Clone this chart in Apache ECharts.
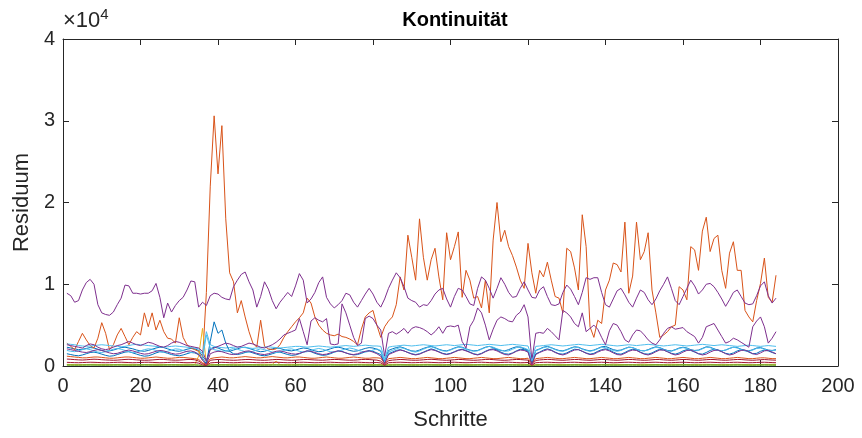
<!DOCTYPE html>
<html>
<head>
<meta charset="utf-8">
<script src="https://cdn.jsdelivr.net/npm/echarts@6/dist/echarts.min.js"></script>
<style>
  html, body { margin: 0; padding: 0; background: #fff; }
  #chart { width: 862px; height: 438px; }
</style>
</head>
<body>
<div id="chart"></div>
<script>
// Schritte 1..184
var steps = [];
for (var i = 1; i <= 184; i++) steps.push(i);

var xTicks = [0, 20, 40, 60, 80, 100, 120, 140, 160, 180, 200];
var yTicks = [0, 1, 2, 3, 4]; // x 10^4

// grosse orange Kurve
var resOrange = [
  2800,2400,2000,3000,4000,3200,2500,2200,3400,5300,
  4000,2000,2600,3800,4600,3600,2600,3500,4200,3800,
  6500,4800,6500,4400,5600,4200,3400,3300,2800,5900,
  3500,2600,2200,2000,1800,700,9000,22000,30600,23500,
  29400,18000,11400,10300,6500,8000,6000,4200,2800,2300,
  5600,2400,2100,2000,2100,2600,3500,4200,4800,5400,
  5900,6500,8300,7700,6000,5000,4400,4000,3800,3700,
  3900,3600,3500,3300,3000,2600,4500,6000,6500,6800,
  5000,3500,4800,5500,6000,7500,10900,9300,16000,13300,
  10500,18000,13300,10500,13000,14400,10900,8100,16300,13000,
  14600,16400,8400,11700,10500,8300,8500,7100,10500,6500,
  15400,20000,15200,16600,14600,13500,12100,10500,9500,15000,
  11400,8900,11700,10900,12700,10500,8500,8300,6500,14400,
  14000,12000,9300,18500,14600,4800,3500,5600,5200,9300,
  10500,12600,12400,11500,17600,8900,11000,17600,13000,14000,
  16300,9300,6500,3500,3800,4200,4800,5000,9700,9300,
  8100,14600,14200,11700,16500,18200,14000,15600,16000,11700,
  9500,13800,15200,11700,11700,6800,6000,5400,8000,10100,
  13200,8400,7800,11100
];

// obere violette Kurve
var resPurpleA = [
  8900,8600,7800,8000,9300,10200,10600,10000,7500,6500,
  6300,6200,6600,7500,8300,9900,9800,8900,8900,8800,
  8900,8900,9200,10100,8400,5900,7700,6600,7400,8000,
  8400,9300,10400,10300,7200,7800,7400,8600,8900,8800,
  8400,8200,8100,9700,10500,11200,11500,10300,9300,7200,
  8500,10300,9400,8000,7000,7800,8400,9000,8500,9800,
  11300,10500,7700,8200,9000,10200,10900,8400,7600,7100,
  7500,8000,8900,8700,7800,7200,8000,8800,9500,8800,
  7800,7200,8200,9500,10500,11400,10800,9700,8300,8000,
  7800,7200,7500,7400,8000,8800,9300,9500,8200,7200,
  8500,9500,9300,8500,7600,7400,9500,10900,10500,9500,
  8300,9500,10800,10000,9000,8400,8500,9500,10300,9300,
  8400,8300,9300,9700,8500,7500,7400,7600,9000,9900,
  9400,8500,7500,9000,10800,10600,10800,10800,9000,7500,
  7200,8200,9200,9500,8700,7800,7200,8300,9300,9000,
  8100,7500,8200,9200,10000,10900,9500,8000,7500,8500,
  9500,10500,9800,8800,9300,10000,10100,9700,9000,8200,
  7300,8100,9000,9300,8500,7700,7500,7600,8600,9800,
  10300,8600,7700,8300
];

// untere violette Kurve
var resPurpleB = [
  2600,2500,2400,2300,2200,2500,2700,2600,2300,2100,
  2000,2100,2300,2500,2600,2800,3000,2800,2600,2500,
  2700,2900,2800,2600,2400,2300,2500,2800,3000,2900,
  2700,2500,2400,2300,2200,1800,600,2000,2200,2400,
  2600,2800,2700,2500,2300,2400,2600,2800,2700,2500,
  2300,2200,2400,2600,2900,3300,3800,4000,4200,4400,
  5800,4200,2600,5500,5900,5600,5400,5800,2700,2600,
  2700,7600,6500,5000,3500,2500,2800,5800,6100,5800,
  5000,4400,1200,4000,4200,3900,4200,4600,4000,4600,
  4800,4700,4500,4200,3800,4200,4800,4000,4800,4900,
  4800,5000,3000,2200,4800,5600,7100,6500,5000,3200,
  4500,5600,6000,5800,5500,5400,6200,6600,7500,6000,
  700,4000,4100,4000,4600,4200,3700,3200,6800,6500,
  6000,5200,4800,6500,4200,4600,5000,4500,3500,2600,
  4300,5200,5000,4200,3200,2900,3800,4400,4300,3800,
  3200,2800,2600,3200,4000,4600,4800,4500,4600,4700,
  4200,3900,3600,2800,3500,4800,5000,5200,4400,3600,
  2800,3000,3400,3200,2900,2600,2300,4800,5500,6000,
  4800,2800,3400,4200
];

var resLightBlue1 = [
  2700,2650,2600,2500,2450,2400,2450,2500,2550,2600,
  2550,2500,2450,2400,2350,2400,2500,2600,2650,2600,
  2550,2500,2450,2400,2350,2300,2350,2400,2450,2400,
  2350,2300,2250,2200,2100,1500,4200,2600,2400,2300,
  2250,2200,2250,2300,2350,2300,2250,2200,2150,2200,
  2250,2300,2350,2300,2250,2200,2250,2300,2350,2400,
  2400,2350,2300,2350,2400,2450,2400,2350,2300,2350,
  2400,2450,2500,2450,2400,2450,2500,2550,2500,2450,
  2450,2400,900,2300,2400,2450,2500,2550,2500,2450,
  2500,2550,2600,2550,2500,2450,2500,2550,2600,2550,
  2500,2550,2600,2650,2600,2550,2500,2550,2600,2650,
  2600,2550,2500,2550,2600,2650,2600,2550,2500,2450,
  1000,2400,2450,2500,2550,2600,2550,2500,2450,2500,
  2550,2600,2650,2600,2550,2500,2550,2600,2650,2600,
  2550,2500,2450,2500,2550,2600,2550,2500,2550,2600,
  2650,2600,2550,2500,2450,2500,2550,2600,2550,2500,
  2450,2500,2550,2600,2650,2600,2550,2500,2550,2600,
  2550,2500,2450,2400,2450,2500,2550,2500,2450,2400,
  2450,2500,2450,2400
];

var resBlue1 = [
  2300,2200,2100,2000,2050,2150,2250,2200,2050,1900,
  1800,1850,1950,2100,2250,2300,2200,2100,1950,1850,
  1800,1900,2050,2200,2300,2250,2100,1950,1850,1800,
  1900,2050,2150,2100,1900,1200,600,2100,2300,2200,
  2000,1850,1800,1950,2100,2250,2300,2150,2000,1850,
  1750,1800,1950,2100,2200,2150,2000,1900,1850,1950,
  2100,2200,2150,2000,1850,1750,1800,1950,2100,2250,
  2300,2200,2050,1900,1800,1850,2000,2150,2250,2200,
  2050,1800,600,1900,2100,2250,2350,2200,2000,1850,
  1800,1950,2150,2300,2400,2250,2050,1900,1850,2000,
  2200,2350,2300,2100,1950,1850,1900,2100,2300,2400,
  2250,2050,1900,1850,2000,2200,2350,2300,2100,1950,
  500,1900,2100,2300,2400,2250,2050,1900,1850,2000,
  2200,2350,2300,2100,1950,1850,1950,2150,2350,2400,
  2200,2000,1900,1950,2150,2300,2250,2050,1900,1850,
  2000,2200,2350,2250,2050,1900,1850,2000,2200,2300,
  2200,2000,1900,1950,2150,2350,2300,2100,1950,1850,
  1950,2150,2300,2250,2050,1900,1850,2000,2200,2250,
  2100,1950,1900,2000
];

var resBlue2 = [
  1500,1400,1300,1250,1350,1500,1650,1700,1600,1450,
  1300,1200,1250,1400,1550,1700,1750,1600,1450,1300,
  1200,1250,1400,1600,1750,1700,1550,1400,1300,1250,
  1350,1500,1650,1600,1400,900,300,3000,5400,4000,
  4400,2800,1800,1500,1400,1500,1650,1750,1600,1450,
  1300,1250,1350,1500,1650,1700,1550,1400,1300,1350,
  1500,1700,1850,1750,1550,1400,1300,1350,1500,1700,
  1850,1800,1600,1450,1350,1400,1550,1750,1900,1800,
  1600,1400,400,1500,1700,1900,2000,1850,1650,1500,
  1400,1500,1700,1900,2100,1950,1750,1550,1450,1550,
  1750,1950,2050,1900,1700,1500,1400,1550,1800,2000,
  2100,1950,1700,1500,1450,1600,1850,2050,2000,1800,
  300,1500,1700,1950,2100,1950,1700,1500,1450,1600,
  1850,2050,2000,1800,1600,1450,1550,1800,2000,2100,
  1950,1700,1500,1450,1650,1900,2050,1950,1700,1500,
  1450,1600,1850,2050,1950,1750,1550,1450,1600,1850,
  2000,1900,1700,1500,1450,1650,1900,2050,1950,1750,
  1550,1450,1600,1850,2000,1900,1700,1500,1550,1800,
  1950,1850,1650,1500
];

var resLightBlue2 = [
  1900,1800,1750,1850,2000,2100,2000,1850,1700,1650,
  1750,1900,2050,2150,2050,1900,1750,1650,1700,1850,
  2000,2100,2050,1900,1750,1700,1800,1950,2100,2050,
  1900,1750,1650,1700,1500,800,3800,2200,2000,1900,
  1800,1850,2000,2150,2050,1900,1750,1700,1800,1950,
  2100,2000,1850,1700,1650,1750,1900,2050,2100,1950,
  1800,1700,1750,1900,2050,2150,2050,1900,1750,1700,
  1800,1950,2100,2200,2100,1950,1800,1700,1800,1950,
  2100,1900,500,1700,1900,2100,2250,2150,1950,1800,
  1700,1850,2050,2250,2350,2200,2000,1850,1800,1950,
  2150,2300,2250,2050,1900,1800,1850,2050,2250,2400,
  2300,2100,1950,1800,1850,2050,2250,2350,2200,2000,
  600,1850,2050,2250,2350,2200,2000,1850,1800,1950,
  2150,2300,2250,2050,1900,1800,1900,2100,2300,2250,
  2050,1900,1800,1900,2100,2300,2250,2050,1900,1850,
  1950,2150,2300,2200,2000,1850,1800,1950,2150,2250,
  2150,1950,1850,1900,2100,2300,2250,2050,1900,1850,
  1950,2150,2300,2200,2000,1850,1800,1950,2150,2200,
  2050,1900,1850,1950
];

var resPurpleC = [
  2100,2000,1900,1800,1700,1650,1750,1900,2000,1900,
  1750,1600,1500,1550,1700,1850,1950,1850,1700,1550,
  1450,1500,1650,1800,1900,1850,1700,1550,1450,1500,
  1650,1800,1850,1700,1400,700,200,1500,1700,1800,
  1750,1600,1450,1400,1500,1650,1800,1850,1700,1550,
  1450,1400,1500,1650,1800,1850,1750,1600,1500,1450,
  1550,1700,1850,1800,1650,1500,1400,1450,1600,1750,
  1850,1750,1600,1450,1400,1500,1650,1800,1850,1700,
  1500,1200,300,1400,1600,1800,1950,1850,1650,1450,
  1350,1450,1650,1850,2000,1900,1700,1500,1400,1500,
  1700,1900,2000,1850,1650,1450,1350,1500,1750,1950,
  2000,1850,1600,1400,1350,1550,1800,1950,1900,1700,
  200,1400,1650,1850,2000,1900,1650,1450,1350,1500,
  1750,1950,2000,1800,1550,1400,1450,1700,1900,2000,
  1850,1600,1400,1350,1550,1800,1950,1900,1650,1450,
  1350,1500,1750,1950,1950,1750,1500,1350,1450,1700,
  1900,1950,1750,1500,1350,1450,1700,1900,1950,1750,
  1500,1350,1450,1700,1900,1950,1750,1500,1400,1600,
  1850,1900,1700,1500
];

var resOrangeLow = [
  1200,1150,1100,1050,1000,1000,1050,1100,1100,1050,
  1000,950,950,1000,1050,1100,1100,1050,1000,950,
  950,1000,1050,1100,1050,1000,950,950,1000,1050,
  1050,1000,950,900,800,400,200,900,1000,1050,
  1100,1050,1000,1000,1050,1100,1150,1100,1050,1000,
  1000,1050,1100,1150,1100,1050,1000,1000,1050,1100,
  1100,1050,1000,950,950,1000,1050,1100,1050,1000,
  950,950,1000,1050,1100,1050,1000,950,950,1000,
  1000,950,300,900,950,1000,1050,1000,950,900,
  900,950,1000,1050,1000,950,900,900,950,1000,
  1050,1000,950,900,900,950,1000,1050,1000,950,
  900,900,950,1000,1050,1000,950,900,900,950,
  300,900,950,1000,1050,1000,950,900,900,950,
  1000,1050,1000,950,900,900,950,1000,1050,1000,
  950,900,900,950,1000,1050,1000,950,900,900,
  950,1000,1050,1000,950,900,900,950,1000,1050,
  1000,950,900,900,950,1000,1050,1000,950,900,
  900,950,1000,1050,1000,950,900,900,950,1000,
  1000,950,900,900
];

var resRed1 = [
  850,820,780,750,730,760,800,830,810,770,
  740,720,700,720,760,800,820,790,750,720,
  700,710,740,780,810,800,760,730,710,720,
  750,790,800,760,600,300,100,700,760,800,
  780,740,720,700,720,760,790,800,770,730,
  710,700,730,770,800,790,750,720,700,720,
  760,790,800,770,740,720,710,740,780,800,
  790,760,730,710,720,750,790,810,790,750,
  720,600,150,650,720,760,800,780,740,710,
  700,720,760,800,820,790,750,720,700,730,
  770,800,790,750,720,700,720,760,800,810,
  780,740,710,700,730,770,800,790,750,720,
  150,680,740,780,810,790,750,720,700,730,
  770,800,790,750,720,700,730,770,800,790,
  750,720,700,730,770,800,790,750,720,700,
  720,760,800,790,750,720,700,730,770,800,
  790,750,720,700,730,770,800,790,750,720,
  700,730,770,800,790,750,720,700,730,770,
  790,760,730,710
];

var resRed2 = [
  450,430,410,400,420,440,460,450,430,410,
  400,410,430,450,460,440,420,400,410,430,
  450,460,440,420,400,410,430,450,460,440,
  420,400,410,430,350,150,50,380,420,440,
  450,430,410,400,420,440,460,450,430,410,
  400,410,430,450,460,440,420,400,410,430,
  450,460,440,420,400,410,430,450,460,440,
  420,400,410,430,450,460,440,420,400,410,
  430,380,80,400,430,450,460,440,420,400,
  410,430,450,460,440,420,400,410,430,450,
  460,440,420,400,410,430,450,460,440,420,
  400,410,430,450,460,440,420,400,410,430,
  80,400,430,450,460,440,420,400,410,430,
  450,460,440,420,400,410,430,450,460,440,
  420,400,410,430,450,460,440,420,400,410,
  430,450,460,440,420,400,410,430,450,460,
  440,420,400,410,430,450,460,440,420,400,
  410,430,450,460,440,420,400,410,430,450,
  460,440,420,400
];

var resYellow = [
  200,190,180,170,180,190,200,210,200,190,
  180,170,180,190,200,210,200,190,180,170,
  180,190,200,210,200,190,180,170,180,190,
  200,210,200,190,1200,4600,300,200,190,180,
  170,180,190,200,210,200,190,180,170,180,
  190,200,210,200,600,180,170,180,190,200,
  210,200,190,180,170,180,190,200,210,200,
  190,180,170,180,190,200,210,200,190,180,
  170,180,60,190,200,210,200,190,180,170,
  180,190,200,210,200,190,180,170,180,190,
  200,210,200,190,180,170,180,190,200,210,
  200,190,180,170,180,190,200,210,200,190,
  60,170,180,190,200,210,200,190,180,170,
  180,190,200,210,200,190,180,170,180,190,
  200,210,200,190,180,170,180,190,200,210,
  200,190,180,170,180,190,200,210,200,190,
  180,170,180,190,200,210,200,190,180,170,
  180,190,200,210,200,190,180,170,180,190,
  200,210,200,190
];

var resGreen1 = [
  90,85,80,80,85,90,95,90,85,80,
  80,85,90,95,90,85,80,80,85,90,
  95,90,85,80,80,85,90,95,90,85,
  80,80,85,90,80,40,20,80,85,90,
  95,90,85,80,80,85,90,95,90,85,
  80,80,85,90,95,90,85,80,80,85,
  90,95,90,85,80,80,85,90,95,90,
  85,80,80,85,90,95,90,85,80,80,
  85,80,20,80,85,90,95,90,85,80,
  80,85,90,95,90,85,80,80,85,90,
  95,90,85,80,80,85,90,95,90,85,
  80,80,85,90,95,90,85,80,80,85,
  20,80,85,90,95,90,85,80,80,85,
  90,95,90,85,80,80,85,90,95,90,
  85,80,80,85,90,95,90,85,80,80,
  85,90,95,90,85,80,80,85,90,95,
  90,85,80,80,85,90,95,90,85,80,
  80,85,90,95,90,85,80,80,85,90,
  95,90,85,80
];

var resGreen2 = [
  160,150,140,140,150,160,170,160,150,140,
  140,150,160,170,160,150,140,140,150,160,
  170,160,150,140,140,150,160,170,160,150,
  140,140,150,160,140,80,30,140,150,160,
  170,160,150,140,140,150,160,170,160,150,
  140,140,150,160,170,160,150,140,140,150,
  160,170,160,150,140,140,150,160,170,160,
  150,140,140,150,160,170,160,150,140,140,
  150,140,30,140,150,160,170,160,150,140,
  140,150,160,170,160,150,140,140,150,160,
  170,160,150,140,140,150,160,170,160,150,
  140,140,150,160,170,160,150,140,140,150,
  30,140,150,160,170,160,150,140,140,150,
  160,170,160,150,140,140,150,160,170,160,
  150,140,140,150,160,170,160,150,140,140,
  150,160,170,160,150,140,140,150,160,170,
  160,150,140,140,150,160,170,160,150,140,
  140,150,160,170,160,150,140,140,150,160,
  170,160,150,140
];

// Reihenfolge wie im Original (spaetere Linien oben)
var seriesList = [
  { vals: resBlue1,      color: '#0072BD' },
  { vals: resOrange,     color: '#D95319' },
  { vals: resYellow,     color: '#EDB120' },
  { vals: resPurpleA,    color: '#7E2F8E' },
  { vals: resGreen1,     color: '#77AC30' },
  { vals: resLightBlue1, color: '#4DBEEE' },
  { vals: resRed1,       color: '#A2142F' },
  { vals: resBlue2,      color: '#0072BD' },
  { vals: resOrangeLow,  color: '#D95319' },
  { vals: resPurpleB,    color: '#7E2F8E' },
  { vals: resGreen2,     color: '#77AC30' },
  { vals: resLightBlue2, color: '#4DBEEE' },
  { vals: resRed2,       color: '#A2142F' },
  { vals: resPurpleC,    color: '#7E2F8E' }
];

var font = 'Liberation Sans, Arial, Helvetica, sans-serif';
var axisCol = '#262626';

var myChart = echarts.init(document.getElementById('chart'));

var series = seriesList.map(function (s) {
  return {
    type: 'line',
    showSymbol: false,
    symbol: 'none',
    animation: false,
    xAxisIndex: 0,
    yAxisIndex: 0,
    lineStyle: { width: 1, color: s.color },
    data: s.vals.map(function (v, i) { return [steps[i], v]; })
  };
});

function boxAxis(extra) {
  return Object.assign({
    type: 'value',
    axisLine: { show: true, onZero: false, lineStyle: { color: axisCol, width: 1 } },
    axisTick: { show: true, inside: true, length: 6, lineStyle: { color: axisCol } },
    splitLine: { show: false }
  }, extra);
}

var option = {
  backgroundColor: '#fff',
  animation: false,
  title: {
    text: 'Kontinuität',
    left: 450,
    top: 5,
    textAlign: 'center',
    textStyle: { fontFamily: font, fontSize: 20, fontWeight: 'bold', color: '#000' }
  },
  graphic: [{
    type: 'text',
    left: 63,
    top: 7,
    style: {
      text: '×10{sup|4}',
      font: '22px ' + font,
      fill: axisCol,
      rich: { sup: { fontSize: 15, fontFamily: font, fill: axisCol, verticalAlign: 'top', padding: [0, 0, 12, 0] } }
    }
  }],
  grid: { left: 63, right: 24, top: 39, bottom: 72, containLabel: false },
  xAxis: [
    boxAxis({
      min: xTicks[0], max: xTicks[xTicks.length - 1], interval: 20,
      name: 'Schritte', nameLocation: 'middle', nameGap: 43,
      nameTextStyle: { fontFamily: font, fontSize: 22, color: axisCol },
      axisLabel: { fontFamily: font, fontSize: 20, color: axisCol, margin: 10 }
    }),
    boxAxis({ position: 'top', min: 0, max: 200, interval: 20, axisLabel: { show: false } })
  ],
  yAxis: [
    boxAxis({
      min: 0, max: yTicks[yTicks.length - 1] * 10000, interval: 10000,
      name: 'Residuum', nameLocation: 'middle', nameGap: 26,
      nameTextStyle: { fontFamily: font, fontSize: 22, color: axisCol },
      axisLabel: {
        fontFamily: font, fontSize: 20, color: axisCol, margin: 8,
        formatter: function (v) { return String(v / 10000); }
      }
    }),
    boxAxis({ position: 'right', min: 0, max: 40000, interval: 10000, axisLabel: { show: false } })
  ],
  series: series
};

myChart.setOption(option);
</script>
</body>
</html>
